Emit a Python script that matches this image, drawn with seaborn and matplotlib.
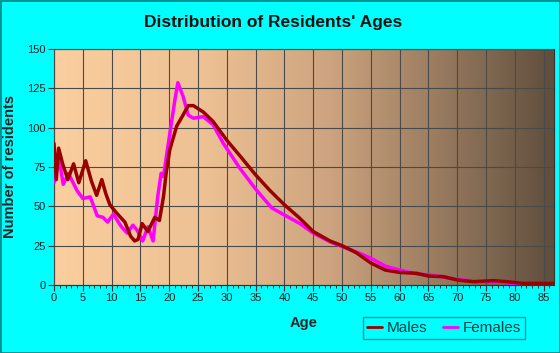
import numpy as np
import pandas as pd
import matplotlib
matplotlib.use("Agg")
import matplotlib.pyplot as plt
from matplotlib.colors import LinearSegmentedColormap
from matplotlib.ticker import MultipleLocator
from matplotlib.lines import Line2D
import seaborn as sns

title = "Distribution of Residents' Ages"
x_label = "Age"
y_label = "Number of residents"
series_names = ["Males", "Females"]

male_ages = [0, 0.4, 0.8, 1.5, 2.4, 3.4, 4.3, 5.5, 6.5, 7.4, 8.3, 9.0, 9.7, 10.8,
             12.3, 13.3, 14.0, 14.6, 15.3, 16.3, 17.5, 18.3, 19.0, 19.5, 20.1,
             21.3, 22.4, 23.3, 24.2, 25.9, 27.6, 30, 32.3, 35, 37.5, 40, 42.5, 45,
             47.9, 50, 52.5, 55, 57.5, 60, 63, 65, 67.6, 70, 72.8, 76.3, 78.6,
             81.5, 87]
male_values = [90, 67, 87, 77, 67, 77, 65, 79, 66, 57, 67, 58, 51, 46,
               40, 31, 28, 29, 39, 34, 43, 41, 56, 72, 86,
               101, 108, 114, 114, 110, 104, 92, 82, 70, 60, 51, 43, 34,
               28, 25, 20.5, 14, 9.5, 8, 7.4, 5.7, 5.3, 3.2, 2.1, 2.8, 2.1,
               1, 1]

female_ages = [0, 0.4, 0.9, 1.6, 2.5, 4.0, 5.0, 6.3, 7.5, 8.5, 9.3, 10.3, 11.7,
               12.7, 13.7, 14.4, 15.4, 16.3, 17.2, 18.0, 18.6, 19.0, 20.1, 21.0,
               21.5, 22.4, 23.3, 24.2, 25.9, 27.6, 29.4, 32.3, 35, 37.8, 40,
               42.7, 45, 47.9, 49.6, 52.5, 55, 57.5, 60, 63, 65.3, 70, 72.8,
               76.3, 80, 87]
female_values = [65, 72, 80, 64, 71, 60, 55, 56, 44, 43, 40, 45, 37,
                 33, 38, 35, 28, 37, 28, 56, 71, 69, 96, 118,
                 128.6, 120, 108, 106, 107, 102, 90, 74, 61, 49, 44.5,
                 39, 33, 27.5, 25, 21, 17, 12, 9.5, 7, 6.4, 3.6, 2.5,
                 2.1, 1, 0.5]

x_ticks = list(range(0, 90, 5))
y_ticks = [0, 25, 50, 75, 100, 125, 150]

df = pd.concat([
    pd.DataFrame({"age": male_ages, "value": male_values, "sex": series_names[0]}),
    pd.DataFrame({"age": female_ages, "value": female_values, "sex": series_names[1]}),
])

sns.set_style("white")
plt.rcParams['font.family'] = ['Liberation Sans', 'DejaVu Sans']

fig = plt.figure(figsize=(5.6, 3.53), dpi=100, facecolor="#00FFFF")
ax = fig.add_axes([54 / 560, 1 - 285 / 353, 500 / 560, 236 / 353])

xmax = 86.8
cmap = LinearSegmentedColormap.from_list(
    "bg", [(0, "#FBCE9F"), (0.3, "#EEC194"), (0.55, "#CDA47F"), (0.75, "#9E7F62"), (1, "#5F4E3D")])
grad = np.linspace(0, 1, 256).reshape(1, -1)
ax.imshow(grad, cmap=cmap, aspect="auto", extent=[0, xmax, 0, 150], zorder=0)

palette = {"Males": "#990000", "Females": "#FF00FF"}
sns.lineplot(data=df, x="age", y="value", hue="sex", palette=palette,
             hue_order=["Females", "Males"], estimator=None, sort=False,
             linewidth=2.5, ax=ax, legend=False, zorder=3)

ax.set_xlim(0, xmax)
ax.set_ylim(0, 150)
ax.set_xticks(x_ticks)
ax.set_yticks(y_ticks)
ax.xaxis.set_minor_locator(MultipleLocator(1))
ax.grid(True, which="major", color="#4a4a4a", linewidth=0.8, zorder=1)
ax.set_axisbelow(False)
for line in ax.get_xgridlines() + ax.get_ygridlines():
    line.set_zorder(1)

ax.tick_params(axis="both", which="major", direction="out", length=4, width=0.8,
               color="#333333", labelsize=8, labelcolor="#222222", pad=2)
ax.tick_params(axis="x", which="minor", direction="out", length=2.5, width=0.7,
               color="#333333", bottom=True)
ax.tick_params(axis="x", bottom=True)
ax.tick_params(axis="y", left=True)
for s in ax.spines.values():
    s.set_visible(True)
    s.set_color("#333333")
    s.set_linewidth(0.8)

ax.set_xlabel(x_label, fontsize=10.5, fontweight="bold", labelpad=9)
ax.set_ylabel(y_label, fontsize=10.5, fontweight="bold", labelpad=7)
fig.text(273 / 560, 1 - 23 / 353, title, ha="center", va="center",
         fontsize=12.5, fontweight="bold", color="#111111")

handles = [Line2D([], [], color=palette["Males"], linewidth=2),
           Line2D([], [], color=palette["Females"], linewidth=2)]
leg = fig.legend(handles, series_names, loc="center", bbox_to_anchor=(444 / 560, 1 - 328 / 353),
                 ncol=2, frameon=True, fontsize=11, handlelength=1.0, handletextpad=0.3,
                 columnspacing=1.0, borderpad=0.25, borderaxespad=0, fancybox=False)
leg.get_frame().set_edgecolor("#008080")
leg.get_frame().set_facecolor("#00FFFF")
leg.get_frame().set_linewidth(1)
for t in leg.get_texts():
    t.set_color("#004040")

border = plt.Rectangle((0.5 / 560, 0.5 / 353), 1 - 1 / 560, 1 - 1 / 353, transform=fig.transFigure,
                       fill=False, edgecolor="#008080", linewidth=1.2)
fig.patches.append(border)

fig.savefig("out.png", dpi=100, facecolor=fig.get_facecolor())
